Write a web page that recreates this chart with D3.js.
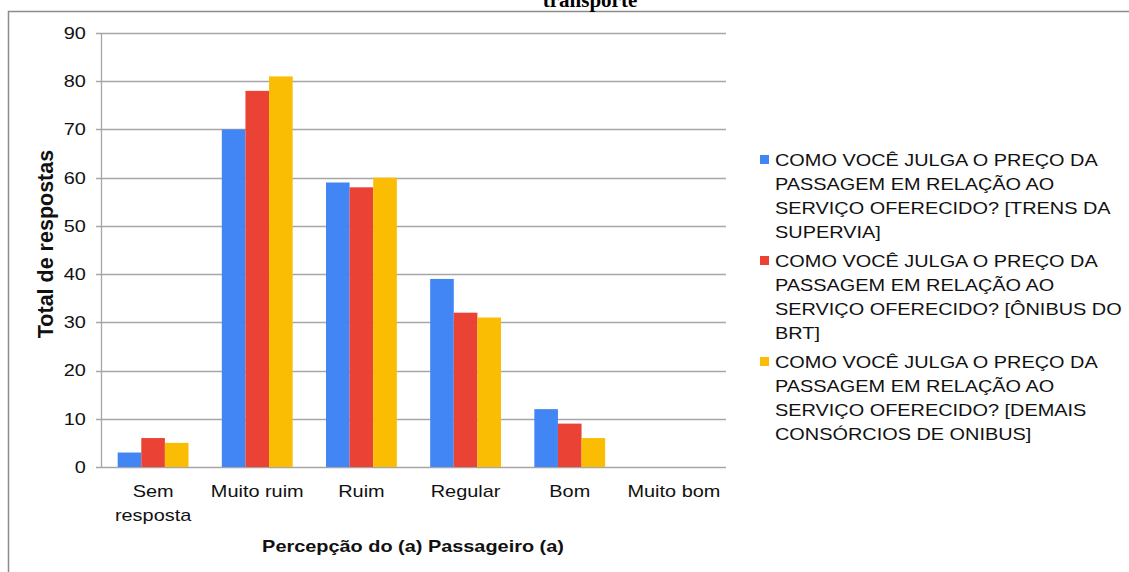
<!DOCTYPE html>
<html>
<head>
<meta charset="utf-8">
<script src="https://cdn.jsdelivr.net/npm/d3@7"></script>
<style>
  body { margin: 0; background: #fff; }
  svg { display: block; font-family: Arial, "Liberation Sans", sans-serif; }
</style>
</head>
<body>
<div id="chart"></div>
<script>
// categories on the x axis
var categories = ["Sem resposta", "Muito ruim", "Ruim", "Regular", "Bom", "Muito bom"];

// one array per series, same order as categories
var trensSupervia = [3, 70, 59, 39, 12, 0];
var onibusBrt     = [6, 78, 58, 32, 9, 0];
var demaisOnibus  = [5, 81, 60, 31, 6, 0];

var seriesNames = [
  "COMO VOCÊ JULGA O PREÇO DA PASSAGEM EM RELAÇÃO AO SERVIÇO OFERECIDO? [TRENS DA SUPERVIA]",
  "COMO VOCÊ JULGA O PREÇO DA PASSAGEM EM RELAÇÃO AO SERVIÇO OFERECIDO? [ÔNIBUS DO BRT]",
  "COMO VOCÊ JULGA O PREÇO DA PASSAGEM EM RELAÇÃO AO SERVIÇO OFERECIDO? [DEMAIS CONSÓRCIOS DE ONIBUS]"
];
// legend lines as wrapped in the picture
var legendLines = [
  ["COMO VOCÊ JULGA O PREÇO DA", "PASSAGEM EM RELAÇÃO AO", "SERVIÇO OFERECIDO? [TRENS DA", "SUPERVIA]"],
  ["COMO VOCÊ JULGA O PREÇO DA", "PASSAGEM EM RELAÇÃO AO", "SERVIÇO OFERECIDO? [ÔNIBUS DO", "BRT]"],
  ["COMO VOCÊ JULGA O PREÇO DA", "PASSAGEM EM RELAÇÃO AO", "SERVIÇO OFERECIDO? [DEMAIS", "CONSÓRCIOS DE ONIBUS]"]
];
var seriesColors = ["#4285F4", "#EA4335", "#FBBC04"];
var yTicks = [0, 10, 20, 30, 40, 50, 60, 70, 80, 90];

var allSeries = [trensSupervia, onibusBrt, demaisOnibus];

var width = 1129, height = 572;
var margin = {top: 33, left: 101, right: 403, bottom: 105};
// the source picture is a bit stretched sideways, so the text is too
var stretch = "scale(1.17,1)";

var svg = d3.select("#chart").append("svg")
    .attr("width", width)
    .attr("height", height);

// outer frame (cut off on the right and bottom like the original image)
svg.append("rect")
    .attr("x", 8.5).attr("y", 11.5)
    .attr("width", 1140).attr("height", 580)
    .attr("fill", "none")
    .attr("stroke", "#8c8c8c")
    .attr("stroke-width", 1.5);

// cropped title at the top
svg.append("text")
    .attr("x", 590).attr("y", 7)
    .attr("text-anchor", "middle")
    .style("font-family", "'Liberation Serif', 'Times New Roman', serif")
    .style("font-weight", "bold")
    .style("font-size", "21px")
    .text("transporte");

var x0 = d3.scaleBand()
    .domain(categories)
    .range([margin.left, width - margin.right])
    .paddingInner(0.32)
    .paddingOuter(0.16);

var x1 = d3.scaleBand()
    .domain(d3.range(allSeries.length))
    .range([0, x0.bandwidth()]);

var y = d3.scaleLinear()
    .domain([0, 90])
    .range([height - margin.bottom, margin.top]);

// gridlines
svg.append("g")
    .selectAll("line")
    .data(yTicks)
    .enter().append("line")
    .attr("x1", margin.left - 5)
    .attr("x2", width - margin.right)
    .attr("y1", function(d) { return Math.round(y(d)) + 0.5; })
    .attr("y2", function(d) { return Math.round(y(d)) + 0.5; })
    .attr("stroke", "#a6a6a6")
    .attr("stroke-width", 1.3);

// bars
svg.append("g")
    .selectAll("g")
    .data(categories)
    .enter().append("g")
    .attr("transform", function(d) { return "translate(" + x0(d) + ",0)"; })
    .selectAll("rect")
    .data(function(d, i) { return allSeries.map(function(s, k) { return {k: k, v: s[i]}; }); })
    .enter().append("rect")
    .attr("x", function(d) { return x1(d.k); })
    .attr("width", x1.bandwidth())
    .attr("y", function(d) { return y(d.v); })
    .attr("height", function(d) { return y(0) - y(d.v); })
    .attr("fill", function(d) { return seriesColors[d.k]; });

// y axis
var yaxis = d3.axisLeft(y).tickValues(yTicks).tickSize(0).tickPadding(13);
var gy = svg.append("g")
    .attr("transform", "translate(" + margin.left + ",0)")
    .call(yaxis);
gy.select(".domain").remove();
gy.selectAll("text")
    .attr("transform", stretch)
    .style("font-size", "17px")
    .attr("fill", "#111");

svg.append("line")
    .attr("x1", margin.left + 0.5).attr("x2", margin.left + 0.5)
    .attr("y1", y(90)).attr("y2", y(0) + 1)
    .attr("stroke", "#a6a6a6")
    .attr("stroke-width", 1.3);

// x axis labels (wrapped)
var xLabelLines = {"Sem resposta": ["Sem", "resposta"]};
var gx = svg.append("g");
gx.selectAll("g")
    .data(categories)
    .enter().append("g")
    .attr("transform", function(d) { return "translate(" + (x0(d) + x0.bandwidth() / 2) + ",497) " + stretch; })
    .append("text")
    .attr("text-anchor", "middle")
    .style("font-size", "17px")
    .attr("fill", "#111")
    .each(function(d) {
        var lines = xLabelLines[d] || [d];
        var t = d3.select(this);
        lines.forEach(function(l, i) {
            t.append("tspan")
                .attr("x", 0)
                .attr("dy", i === 0 ? 0 : 24)
                .text(l);
        });
    });

// axis titles
svg.append("text")
    .attr("transform", "translate(413,552) " + stretch)
    .attr("text-anchor", "middle")
    .style("font-size", "17px")
    .style("font-weight", "bold")
    .attr("fill", "#111")
    .text("Percepção do (a) Passageiro (a)");

svg.append("text")
    .attr("transform", "translate(53,244) rotate(-90)")
    .attr("text-anchor", "middle")
    .style("font-size", "21.5px")
    .style("font-weight", "bold")
    .attr("fill", "#111")
    .text("Total de respostas");

// legend
var legend = svg.append("g").attr("transform", "translate(760,166)");
var entry = legend.selectAll("g")
    .data(seriesNames)
    .enter().append("g")
    .attr("transform", function(d, i) { return "translate(0," + (i * 101) + ")"; });
entry.append("title").text(function(d) { return d; });
entry.append("rect")
    .attr("x", 0).attr("y", -11)
    .attr("width", 9).attr("height", 9)
    .attr("fill", function(d, i) { return seriesColors[i]; });
entry.append("text")
    .attr("transform", "translate(15,0) " + stretch)
    .style("font-size", "17px")
    .attr("fill", "#111")
    .each(function(d, i) {
        var t = d3.select(this);
        legendLines[i].forEach(function(l, j) {
            t.append("tspan").attr("x", 0).attr("dy", j === 0 ? 0 : 24).text(l);
        });
    });
</script>
</body>
</html>
